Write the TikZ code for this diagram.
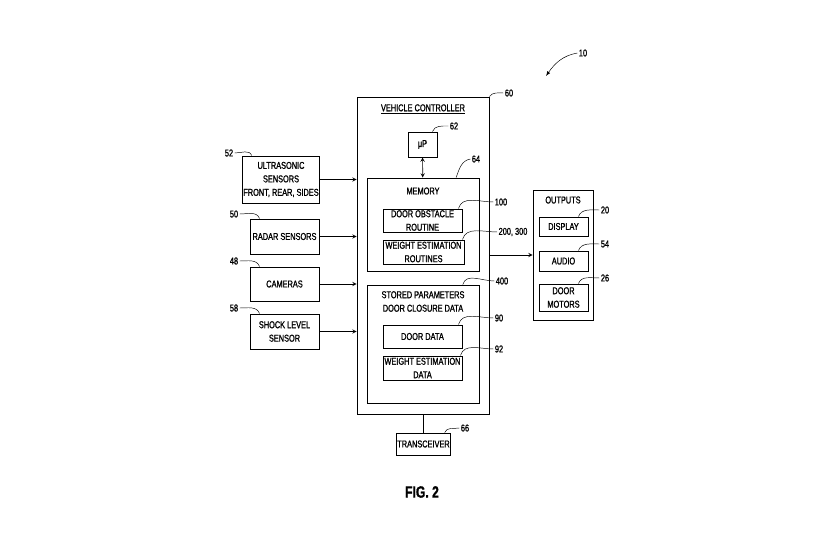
\documentclass[tikz,border=0pt]{standalone}
\usepackage{fontspec}
\setmainfont{Liberation Sans}[FakeStretch=0.74, FakeBold=1.2]
\usetikzlibrary{arrows}

\begin{document}
\begin{tikzpicture}[
            x = 0.3mm, y = -0.3mm, % one unit = one pixel of the sheet
            > = stealth, % arrow head style
            semithick, % line style
            font = \fontsize{8.5}{11.5}\selectfont
        ]

        \tikzstyle{block}=[
            draw = black,
            thick,
            inner sep = 1pt,
            align = center
        ]
        \tikzstyle{refnum}=[inner sep = 1pt]
        \tikzstyle{leader}=[thin]

        \useasboundingbox (0,0) rectangle (820,546);

        % vehicle controller and its parts
        \node (vc) [block, minimum width = 39.6mm, minimum height = 95.1mm] at (423,255.5) {};
        \node (vctitle) at (423,109) {\underline{VEHICLE CONTROLLER}};
        \node (mp) [block, minimum width = 8.7mm, minimum height = 7.5mm] at (422.5,144.5) {μP};
        \node (mem) [block, minimum width = 33.6mm, minimum height = 27.9mm] at (423,224.5) {};
        \node (memtitle) at (423,191) {MEMORY};
        \node (dor) [block, minimum width = 23.7mm, minimum height = 6.9mm] at (422.5,220.5) {DOOR OBSTACLE\\ROUTINE};
        \node (wer) [block, minimum width = 24.3mm, minimum height = 7.2mm] at (423.5,252) {WEIGHT ESTIMATION\\ROUTINES};
        \node (sp) [block, minimum width = 33.6mm, minimum height = 35.4mm] at (423,344) {};
        \node (sptitle) [align = center] at (423,301.5) {STORED PARAMETERS\\DOOR CLOSURE DATA};
        \node (dd) [block, minimum width = 23.7mm, minimum height = 6.9mm] at (422.5,336.5) {DOOR DATA};
        \node (wed) [block, minimum width = 23.7mm, minimum height = 7.2mm] at (422.5,368) {WEIGHT ESTIMATION\\DATA};
        \node (tr) [block, minimum width = 15.9mm, minimum height = 6.6mm] at (423.5,444) {TRANSCEIVER};

        % inputs
        \node (us) [block, minimum width = 22.8mm, minimum height = 14.1mm] at (281,179.5) {ULTRASONIC\\SENSORS\\FRONT, REAR, SIDES};
        \node (rad) [block, minimum width = 20.7mm, minimum height = 10.5mm] at (284.5,236.5) {RADAR SENSORS};
        \node (cam) [block, minimum width = 20.7mm, minimum height = 10.2mm] at (284.5,284) {CAMERAS};
        \node (shk) [block, minimum width = 20.7mm, minimum height = 10.5mm] at (284.5,331.5) {SHOCK LEVEL\\SENSOR};

        % outputs
        \node (out) [block, minimum width = 18mm, minimum height = 39mm] at (563,255) {};
        \node (outtitle) at (563,200) {OUTPUTS};
        \node (disp) [block, minimum width = 14.7mm, minimum height = 5.7mm] at (563.5,226.5) {DISPLAY};
        \node (aud) [block, minimum width = 14.7mm, minimum height = 6mm] at (563.5,261) {AUDIO};
        \node (dm) [block, minimum width = 14.7mm, minimum height = 8.1mm] at (563.5,297.5) {DOOR\\MOTORS};

        % reference numerals
        \node (l10) [refnum] at (583,53) {10};
        \node (l60) [refnum] at (509,93) {60};
        \node (l62) [refnum] at (454,126) {62};
        \node (l64) [refnum] at (476,159) {64};
        \node (l100) [refnum] at (501,202) {100};
        \node (l200) [refnum] at (513,232) {200, 300};
        \node (l400) [refnum] at (502,281) {400};
        \node (l90) [refnum] at (499,318) {90};
        \node (l92) [refnum] at (499,349) {92};
        \node (l66) [refnum] at (465,428) {66};
        \node (l52) [refnum] at (229,153) {52};
        \node (l50) [refnum] at (234,214) {50};
        \node (l48) [refnum] at (234,261) {48};
        \node (l58) [refnum] at (234,308) {58};
        \node (l20) [refnum] at (605,210) {20};
        \node (l54) [refnum] at (605,244) {54};
        \node (l26) [refnum] at (605,278) {26};
        \node (fig) at (422,492) {\bfseries\fontsize{14}{16}\selectfont FIG. 2};
        \coordinate (tip10) at (546,76);

        % signal paths
        \path[<->] (mp) edge (mem);
        \path[->] (us) edge (us -| vc.west);
        \path[->] (rad) edge (rad -| vc.west);
        \path[->] (cam) edge (cam -| vc.west);
        \path[->] (shk) edge (shk -| vc.west);
        \path[->] (vc.east |- out) edge (out.west);
        \draw (vc.south -| tr) -- (tr.north);

        % leader lines
        \draw[-latex, thin] (l10.west) to[out=190, in=55] (tip10);
        \draw[leader] (vc.north east) to[out=55, in=180] (l60.west);
        \draw[leader] ([xshift=-1.5mm]mp.north east) to[out=70, in=180] (l62.west);
        \draw[leader] ([xshift=-7mm]mem.north east) to[out=70, in=190] (l64.west);
        \draw[leader] ([xshift=-1.2mm]dor.north east) to[out=75, in=180] (l100.west);
        \draw[leader] ([xshift=-0.6mm]wer.north east) to[out=75, in=180] (l200.west);
        \draw[leader] ([xshift=-5mm]sp.north east) to[out=75, in=180] (l400.west);
        \draw[leader] ([xshift=-1.2mm]dd.north east) to[out=75, in=180] (l90.west);
        \draw[leader] ([xshift=-0.6mm]wed.north east) to[out=75, in=180] (l92.west);
        \draw[leader] ([xshift=-2mm]tr.north east) to[out=70, in=190] (l66.west);
        \draw[leader] (l52.east) to[out=0, in=110] ([xshift=3mm]us.north west);
        \draw[leader] (l50.east) to[out=0, in=110] ([xshift=3mm]rad.north west);
        \draw[leader] (l48.east) to[out=0, in=110] ([xshift=3mm]cam.north west);
        \draw[leader] (l58.east) to[out=0, in=110] ([xshift=3mm]shk.north west);
        \draw[leader] ([xshift=-3mm]disp.north east) to[out=70, in=180] (l20.west);
        \draw[leader] ([xshift=-3mm]aud.north east) to[out=70, in=180] (l54.west);
        \draw[leader] ([xshift=-3mm]dm.north east) to[out=70, in=180] (l26.west);

    \end{tikzpicture}
\end{document}
